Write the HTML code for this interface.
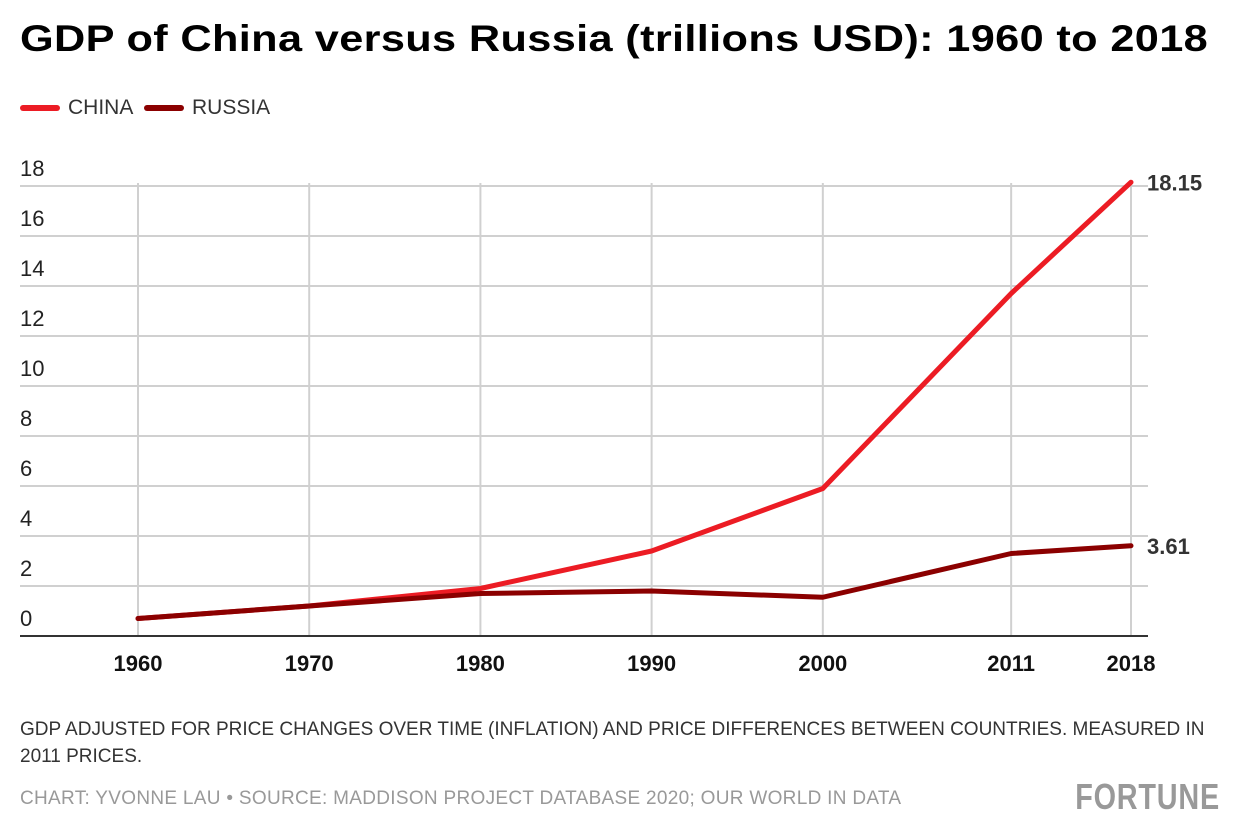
<!DOCTYPE html>
<html><head><meta charset="utf-8"><style>
body{margin:0;background:#fff;width:1240px;height:840px;overflow:hidden;font-family:"Liberation Sans",sans-serif}
.t{position:absolute;left:20px;top:18px;font-size:37px;font-weight:bold;color:#000;letter-spacing:0.3px;transform:scaleX(1.17);transform-origin:left;white-space:nowrap}
.lg{position:absolute;top:96px;font-size:21px;color:#333;display:flex;align-items:center}
.sw{display:inline-block;width:40px;height:6px;border-radius:3px;margin-right:8px}
.note{position:absolute;left:20px;top:716px;font-size:19px;color:#333;line-height:27px;width:1200px}
.src{position:absolute;left:20px;top:788px;font-size:19px;color:#999;letter-spacing:0.3px}
.logo{position:absolute;right:20px;top:776px;font-size:36px;font-weight:bold;color:#999;transform:scaleX(0.8);transform-origin:right;letter-spacing:1px}
</style></head><body>
<div class="t">GDP of China versus Russia (trillions USD): 1960 to 2018</div>
<div class="lg" style="left:20px"><span class="sw" style="background:#ec1c24"></span>CHINA</div>
<div class="lg" style="left:144px"><span class="sw" style="background:#8b0000"></span>RUSSIA</div>
<svg id="c" width="1240" height="840" style="position:absolute;left:0;top:0"></svg>
<div class="note">GDP ADJUSTED FOR PRICE CHANGES OVER TIME (INFLATION) AND PRICE DIFFERENCES BETWEEN COUNTRIES. MEASURED IN 2011 PRICES.</div>
<div class="src">CHART: YVONNE LAU • SOURCE: MADDISON PROJECT DATABASE 2020; OUR WORLD IN DATA</div>
<div class="logo">FORTUNE</div>
<script>
const years=[1960,1970,1980,1990,2000,2011,2018];
const china=[0.7,1.2,1.9,3.4,5.9,13.7,18.15];
const russia=[0.7,1.2,1.7,1.8,1.55,3.3,3.61];
const yTicks=[0,2,4,6,8,10,12,14,16,18];
const NS="http://www.w3.org/2000/svg";
const svg=document.getElementById('c');
const x=v=>138+(v-1960)*(1131-138)/58;
const y=v=>636-v*25;
function mk(tag,at){const e=document.createElementNS(NS,tag);for(const k in at)e.setAttribute(k,at[k]);svg.appendChild(e);return e;}
yTicks.forEach(t=>{
 if(t>0){const l=mk('line',{x1:20,x2:1148,y1:y(t),y2:y(t),stroke:'#d0d0d0','stroke-width':2});
 
 }
 const tx=mk('text',{x:20,y:y(t)-10,'font-size':22,fill:'#222','font-family':'Liberation Sans'});
 tx.textContent=t;
 
 
});
years.forEach(yr=>{
 const l=mk('line',{x1:x(yr),x2:x(yr),y1:183,y2:636,stroke:'#d0d0d0','stroke-width':2});
 
 
 const tx=mk('text',{x:x(yr),y:671,'font-size':22,'font-weight':'bold',fill:'#111','text-anchor':'middle','font-family':'Liberation Sans'});
 tx.textContent=yr;
 
 
});
const ax=mk('line',{x1:20,x2:1148,y1:636,y2:636,stroke:'#333','stroke-width':2});


function series(vals,col,name){
 const p=mk('polyline',{points:years.map((yr,i)=>x(yr)+','+y(vals[i])).join(' '),fill:'none',stroke:col,'stroke-width':5,'stroke-linecap':'round','stroke-linejoin':'round'});
 
 
 const n=vals.length-1;
 const tx=mk('text',{x:1147,y:y(vals[n])+8,'font-size':22,'font-weight':'bold',fill:'#333','font-family':'Liberation Sans'});
 tx.textContent=vals[n];
 
 
}
series(china,'#ec1c24','china-line');
series(russia,'#8b0000','russia-line');
</script>
</body></html>
